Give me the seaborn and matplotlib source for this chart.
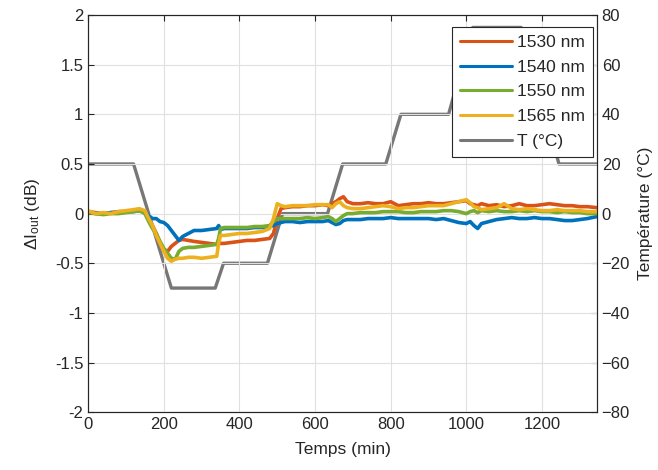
import numpy as np
import pandas as pd
import matplotlib
matplotlib.use("Agg")
import matplotlib.pyplot as plt
import seaborn as sns
from matplotlib.lines import Line2D

sns.set_theme(style="white")
plt.rcParams["font.family"] = ["Liberation Sans", "DejaVu Sans"]
plt.rcParams["mathtext.fontset"] = "custom"
plt.rcParams["mathtext.rm"] = "Liberation Sans"
plt.rcParams["mathtext.it"] = "Liberation Sans"

# temps (min) pour les courbes de puissance
t_db = [0, 20, 40, 60, 80, 100, 120, 135, 150, 160, 170, 180, 190, 200, 210, 220, 230, 240,
        250, 265, 280, 300, 320, 340, 345, 350, 360, 380, 400, 420, 440, 460, 480, 490, 500,
        510, 520, 540, 560, 580, 600, 620, 635, 645, 655, 665, 675, 685, 700, 720, 740, 760,
        780, 800, 820, 840, 860, 880, 900, 920, 940, 960, 980, 1000, 1010, 1020, 1030, 1040,
        1060, 1080, 1100, 1120, 1140, 1160, 1180, 1200, 1220, 1240, 1260, 1280, 1300, 1320, 1345]

d1530 = [0.02, 0.01, 0.0, 0.01, 0.02, 0.02, 0.03, 0.04, 0.02, -0.05, -0.12, -0.2, -0.3, -0.36,
         -0.38, -0.33, -0.3, -0.27, -0.26, -0.27, -0.28, -0.29, -0.3, -0.31, -0.28, -0.3, -0.3,
         -0.29, -0.28, -0.27, -0.27, -0.26, -0.25, -0.2, -0.05, 0.05, 0.06, 0.07, 0.07, 0.08,
         0.08, 0.09, 0.08, 0.1, 0.12, 0.15, 0.17, 0.12, 0.1, 0.1, 0.11, 0.1, 0.1, 0.12, 0.08,
         0.09, 0.1, 0.1, 0.11, 0.1, 0.1, 0.11, 0.12, 0.13, 0.1, 0.09, 0.08, 0.1, 0.08, 0.09,
         0.07, 0.08, 0.1, 0.08, 0.08, 0.09, 0.1, 0.09, 0.08, 0.08, 0.07, 0.07, 0.06]
d1540 = [0.02, 0.0, 0.0, 0.01, 0.01, 0.02, 0.02, 0.03, 0.02, -0.02, -0.05, -0.05, -0.08, -0.09,
         -0.12, -0.17, -0.22, -0.27, -0.23, -0.2, -0.17, -0.17, -0.16, -0.15, -0.12, -0.16,
         -0.15, -0.15, -0.15, -0.15, -0.14, -0.14, -0.13, -0.12, -0.1, -0.09, -0.08, -0.08,
         -0.09, -0.08, -0.08, -0.08, -0.07, -0.09, -0.11, -0.1, -0.07, -0.06, -0.06, -0.06,
         -0.05, -0.05, -0.05, -0.04, -0.05, -0.05, -0.05, -0.05, -0.05, -0.06, -0.05, -0.07,
         -0.09, -0.1, -0.08, -0.12, -0.15, -0.1, -0.08, -0.06, -0.05, -0.04, -0.05, -0.05,
         -0.04, -0.05, -0.05, -0.06, -0.07, -0.07, -0.06, -0.05, -0.03]
d1550 = [0.01, 0.0, -0.01, 0.0, 0.0, 0.01, 0.02, 0.03, 0.0, -0.08, -0.15, -0.2, -0.28, -0.35,
         -0.4, -0.45, -0.46, -0.38, -0.35, -0.34, -0.34, -0.33, -0.32, -0.31, -0.25, -0.15,
         -0.14, -0.14, -0.14, -0.14, -0.13, -0.13, -0.12, -0.08, -0.05, -0.05, -0.05, -0.05,
         -0.05, -0.04, -0.05, -0.04, -0.03, -0.05, -0.08, -0.05, -0.02, 0.0, 0.0, 0.01, 0.01,
         0.01, 0.02, 0.02, 0.02, 0.01, 0.01, 0.02, 0.02, 0.02, 0.03, 0.03, 0.02, 0.0, 0.02,
         0.03, 0.01, 0.03, 0.02, 0.03, 0.02, 0.02, 0.03, 0.02, 0.03, 0.02, 0.02, 0.01, 0.02,
         0.01, 0.01, 0.0, 0.0]
d1565 = [0.03, 0.0, 0.01, 0.0, 0.02, 0.03, 0.04, 0.05, 0.03, -0.05, -0.12, -0.22, -0.3, -0.38,
         -0.45, -0.48, -0.46, -0.45, -0.45, -0.44, -0.44, -0.45, -0.44, -0.43, -0.3, -0.22,
         -0.22, -0.21, -0.2, -0.2, -0.19, -0.18, -0.15, -0.05, 0.1, 0.08, 0.07, 0.08, 0.08,
         0.08, 0.09, 0.09, 0.09, 0.06, 0.1, 0.12, 0.08, 0.06, 0.05, 0.05, 0.06, 0.07, 0.08,
         0.07, 0.05, 0.06, 0.06, 0.07, 0.08, 0.08, 0.08, 0.1, 0.12, 0.14, 0.11, 0.07, 0.06,
         0.04, 0.05, 0.06, 0.1, 0.05, 0.04, 0.05, 0.04, 0.03, 0.03, 0.04, 0.03, 0.03, 0.03,
         0.02, 0.02]

# consigne de température
t_temp = [0, 120, 220, 336, 358, 474, 514, 633, 673, 787, 827, 953, 1017, 1145, 1245, 1345]
temp = [20, 20, -30, -30, -20, -20, 0, 0, 20, 20, 40, 40, 75, 75, 20, 20]

labels = ["1530 nm", "1540 nm", "1550 nm", "1565 nm"]
colors = ["#D95319", "#0072BD", "#77AC30", "#EDB120"]

df = pd.DataFrame({
    "t": t_db * 4,
    "dI": d1530 + d1540 + d1550 + d1565,
    "lambda": np.repeat(labels, len(t_db)),
})
df_T = pd.DataFrame({"t": t_temp, "T": temp})

fig = plt.figure(figsize=(6.58, 4.70), dpi=100)
ax = fig.add_axes([0.134, 0.123, 0.773, 0.845])
ax2 = ax.twinx()

sns.lineplot(data=df, x="t", y="dI", hue="lambda", palette=dict(zip(labels, colors)),
             estimator=None, sort=False, linewidth=2.6, legend=False, ax=ax)
sns.lineplot(data=df_T, x="t", y="T", color="#777777", linewidth=2.4,
             estimator=None, sort=False, legend=False, ax=ax2)

ax.set_zorder(ax2.get_zorder() + 1)
ax.patch.set_visible(False)

ax.set_xlim(0, 1345)
ax.set_ylim(-2, 2)
ax2.set_ylim(-80, 80)
ax.set_xticks(range(0, 1400, 200))
ax.set_yticks(np.arange(-2, 2.01, 0.5))
ax.set_yticklabels(["-2", "-1.5", "-1", "-0.5", "0", "0.5", "1", "1.5", "2"])
ax2.set_yticks(range(-80, 81, 20))

ax.grid(True, color="#e0e0e0", linewidth=0.8)
ax.set_xlabel("Temps (min)", fontsize=12.5, color="#262626", labelpad=7)
ax.set_ylabel(r"ΔI$_{\mathrm{out}}$ (dB)", fontsize=12.5, color="#262626", labelpad=9)
ax2.set_ylabel("Température (°C)", fontsize=12.5, color="#262626", labelpad=6)

for a in (ax, ax2):
    a.tick_params(direction="in", length=4, labelsize=12, colors="#262626", width=0.8)
    for s in a.spines.values():
        s.set_color("#262626")
        s.set_linewidth(0.8)
ax.tick_params(top=True, right=False)

handles = [Line2D([], [], color=c, linewidth=2.2) for c in colors]
handles.append(Line2D([], [], color="#777777", linewidth=2.2))
leg = ax.legend(handles, labels + ["T (°C)"], loc="upper right",
                bbox_to_anchor=(0.992, 0.970), borderaxespad=0, fontsize=12.5,
                frameon=True, fancybox=False, edgecolor="#262626", framealpha=1,
                handlelength=3.0, labelspacing=0.55, handletextpad=0.3, borderpad=0.45)
leg.get_frame().set_linewidth(0.8)

fig.savefig("out.png", dpi=100)
